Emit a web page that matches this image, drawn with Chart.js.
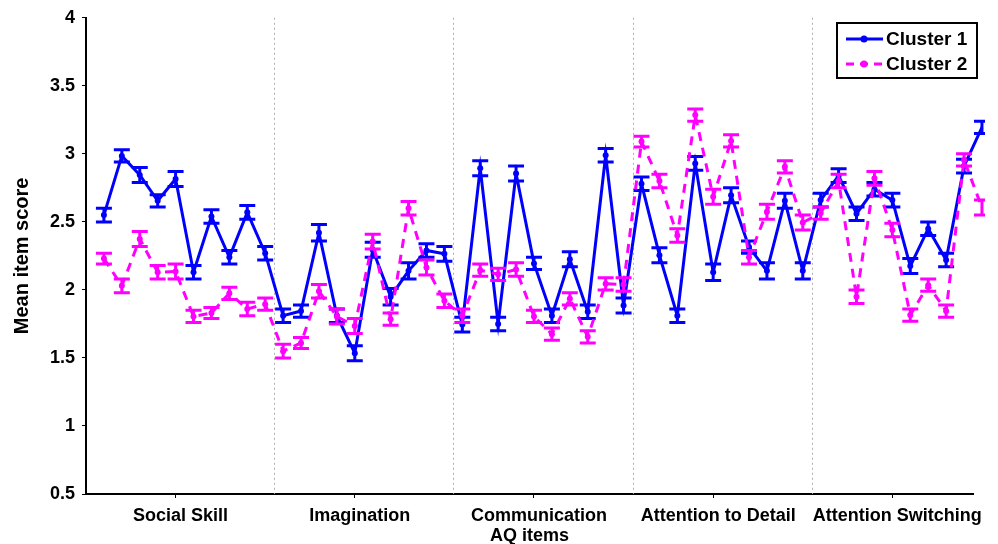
<!DOCTYPE html>
<html>
<head>
<meta charset="utf-8">
<script src="https://cdn.jsdelivr.net/npm/chart.js@4.4.1/dist/chart.umd.min.js"></script>
<style>
  html, body { margin: 0; padding: 0; background: #fff; }
  #wrap { width: 998px; height: 544px; position: relative; }
</style>
</head>
<body>
<div id="wrap"><canvas id="aqChart"></canvas></div>
<script>
// AQ item means per cluster (items 1..50)
const cluster1Mean = [
  2.55, 2.985, 2.845, 2.655, 2.815, 2.13, 2.54, 2.24, 2.57, 2.27,
  1.81, 1.845, 2.42, 1.81, 1.535, 2.295, 1.95, 2.14, 2.29, 2.265,
  1.745, 2.895, 1.75, 2.855, 2.195, 1.81, 2.225, 1.84, 2.99, 1.885,
  2.78, 2.255, 1.81, 2.93, 2.13, 2.695, 2.315, 2.14, 2.655, 2.14,
  2.66, 2.84, 2.56, 2.74, 2.66, 2.175, 2.45, 2.22, 2.91, 3.195
];
const cluster1Err = [
  0.05, 0.045, 0.055, 0.045, 0.055, 0.05, 0.05, 0.05, 0.05, 0.05,
  0.05, 0.045, 0.06, 0.05, 0.055, 0.055, 0.06, 0.06, 0.05, 0.055,
  0.055, 0.055, 0.05, 0.055, 0.045, 0.05, 0.055, 0.05, 0.05, 0.055,
  0.05, 0.055, 0.05, 0.05, 0.06, 0.055, 0.045, 0.06, 0.055, 0.06,
  0.05, 0.05, 0.05, 0.05, 0.05, 0.055, 0.05, 0.05, 0.05, 0.045
];
const cluster2Mean = [
  2.23, 2.03, 2.375, 2.13, 2.135, 1.805, 1.83, 1.975, 1.86, 1.895,
  1.55, 1.61, 1.99, 1.805, 1.735, 2.355, 1.785, 2.60, 2.165, 1.92,
  1.81, 2.145, 2.115, 2.15, 1.805, 1.675, 1.935, 1.655, 2.045, 2.04,
  3.09, 2.80, 2.40, 3.285, 2.685, 3.095, 2.24, 2.575, 2.905, 2.495,
  2.565, 2.80, 1.95, 2.82, 2.44, 1.815, 2.035, 1.845, 2.955, 2.605
];
const cluster2Err = [
  0.04, 0.05, 0.055, 0.05, 0.055, 0.045, 0.04, 0.045, 0.05, 0.045,
  0.05, 0.04, 0.05, 0.055, 0.055, 0.055, 0.045, 0.05, 0.055, 0.05,
  0.05, 0.045, 0.045, 0.05, 0.045, 0.045, 0.045, 0.045, 0.045, 0.05,
  0.04, 0.05, 0.05, 0.045, 0.055, 0.045, 0.05, 0.055, 0.045, 0.055,
  0.045, 0.05, 0.05, 0.05, 0.05, 0.045, 0.045, 0.045, 0.045, 0.055
];

// Subscale labels, their tick positions and the dotted dividers
const domains = ['Social Skill', 'Imagination', 'Communication', 'Attention to Detail', 'Attention Switching'];
const domainTicks = [5, 15, 25, 35, 45];
const dividers = [10.5, 20.5, 30.5, 40.5];
const yTicks = [0.5, 1, 1.5, 2, 2.5, 3, 3.5, 4];

const BLUE = '#0000ff';
const MAGENTA = '#ff00ff';
const FONT = '"Liberation Sans", Arial, sans-serif';

const toPoints = (means) => means.map((v, i) => ({ x: i + 1, y: v }));

// Dotted vertical lines between the subscales
const dividerPlugin = {
  id: 'dividers',
  beforeDatasetsDraw(chart) {
    const { ctx, chartArea, scales } = chart;
    ctx.save();
    ctx.strokeStyle = '#b0b0b0';
    ctx.lineWidth = 1;
    ctx.setLineDash([2, 3]);
    dividers.forEach((d) => {
      const x = Math.round(scales.x.getPixelForValue(d)) + 0.5;
      ctx.beginPath();
      ctx.moveTo(x, chartArea.top);
      ctx.lineTo(x, chartArea.bottom);
      ctx.stroke();
    });
    ctx.restore();
  }
};

// Error bars with caps, drawn right after each dataset
const errorBarPlugin = {
  id: 'errorBars',
  afterDatasetDraw(chart, args) {
    const ds = chart.data.datasets[args.index];
    if (!ds.errors) return;
    const { ctx, chartArea, scales } = chart;
    ctx.save();
    ctx.beginPath();
    ctx.rect(chartArea.left - 10, chartArea.top - 10, chartArea.right - chartArea.left + 22, chartArea.bottom - chartArea.top + 20);
    ctx.clip();
    ctx.strokeStyle = ds.borderColor;
    ctx.lineWidth = 3;
    ctx.setLineDash([]);
    ds.data.forEach((p, i) => {
      const x = scales.x.getPixelForValue(p.x);
      const yTop = scales.y.getPixelForValue(p.y + ds.errors[i]);
      const yBot = scales.y.getPixelForValue(p.y - ds.errors[i]);
      const cap = 8;
      ctx.beginPath();
      ctx.moveTo(x, yTop);
      ctx.lineTo(x, yBot);
      ctx.moveTo(x - cap, yTop);
      ctx.lineTo(x + cap, yTop);
      ctx.moveTo(x - cap, yBot);
      ctx.lineTo(x + cap, yBot);
      ctx.stroke();
    });
    ctx.restore();
  }
};

// Boxed legend in the top right corner
const boxLegendPlugin = {
  id: 'boxLegend',
  afterDraw(chart) {
    const { ctx, chartArea } = chart;
    const right = chartArea.right + 4;
    const left = right - 140;
    const top = 23;
    const bottom = 78;
    ctx.save();
    ctx.fillStyle = '#fff';
    ctx.fillRect(left, top, right - left, bottom - top);
    ctx.strokeStyle = '#000';
    ctx.lineWidth = 2;
    ctx.strokeRect(left, top, right - left, bottom - top);
    const rows = [
      { label: 'Cluster 1', color: BLUE, dash: [], y: 39 },
      { label: 'Cluster 2', color: MAGENTA, dash: [8, 6], y: 64 }
    ];
    rows.forEach((r) => {
      ctx.strokeStyle = r.color;
      ctx.lineWidth = 3;
      ctx.setLineDash(r.dash);
      ctx.beginPath();
      ctx.moveTo(left + 9, r.y);
      ctx.lineTo(left + 46, r.y);
      ctx.stroke();
      ctx.setLineDash([]);
      ctx.fillStyle = r.color;
      ctx.beginPath();
      ctx.arc(left + 27, r.y, 3.5, 0, Math.PI * 2);
      ctx.fill();
      ctx.fillStyle = '#000';
      ctx.font = 'bold 19px ' + FONT;
      ctx.textBaseline = 'middle';
      ctx.fillText(r.label, left + 49, r.y + 1);
    });
    ctx.restore();
  }
};

new Chart(document.getElementById('aqChart'), {
  type: 'line',
  data: {
    datasets: [
      {
        label: 'Cluster 1',
        data: toPoints(cluster1Mean),
        errors: cluster1Err,
        borderColor: BLUE,
        backgroundColor: BLUE,
        borderWidth: 3,
        pointRadius: 3,
        pointBorderWidth: 0,
        pointBackgroundColor: BLUE,
        tension: 0,
        clip: { left: 10, top: 10, right: 12, bottom: 10 },
        order: 1
      },
      {
        label: 'Cluster 2',
        data: toPoints(cluster2Mean),
        errors: cluster2Err,
        borderColor: MAGENTA,
        backgroundColor: MAGENTA,
        borderWidth: 3,
        borderDash: [9, 7],
        pointRadius: 3,
        pointBorderWidth: 0,
        pointBackgroundColor: MAGENTA,
        tension: 0,
        clip: { left: 10, top: 10, right: 12, bottom: 10 },
        order: 0
      }
    ]
  },
  options: {
    responsive: true,
    maintainAspectRatio: false,
    animation: false,
    layout: { padding: { top: 17, right: 25, left: 0, bottom: 0 } },
    scales: {
      x: {
        type: 'linear',
        min: 0,
        max: 49.5,
        afterBuildTicks: (scale) => {
          scale.ticks = domainTicks.map((v) => ({ value: v }));
        },
        afterFit: (scale) => { scale.height = 50; },
        ticks: {
          color: '#000',
          font: { family: FONT, size: 18, weight: 'bold' },
          padding: 7,
          labelOffset: 5,
          maxRotation: 0,
          autoSkip: false,
          callback: (v) => domains[domainTicks.indexOf(v)]
        },
        grid: { drawOnChartArea: false, drawTicks: true, tickLength: 4, color: '#000', lineWidth: 1 },
        border: { display: true, color: '#000', width: 2 },
        title: {
          display: true,
          text: 'AQ items',
          color: '#000',
          font: { family: FONT, size: 18, weight: 'bold' },
          padding: { top: 4, bottom: -3 }
        }
      },
      y: {
        min: 0.5,
        max: 4,
        afterBuildTicks: (scale) => {
          scale.ticks = yTicks.map((v) => ({ value: v }));
        },
        afterFit: (scale) => { scale.width = 86; },
        ticks: {
          color: '#000',
          font: { family: FONT, size: 18, weight: 'bold' },
          padding: 7,
          callback: (v) => String(v)
        },
        grid: { drawOnChartArea: false, drawTicks: true, tickLength: 4, color: '#000', lineWidth: 1 },
        border: { display: true, color: '#000', width: 2 },
        title: {
          display: true,
          text: 'Mean item score',
          color: '#000',
          font: { family: FONT, size: 20, weight: 'bold' },
          padding: { top: 10, bottom: 0 }
        }
      }
    },
    plugins: {
      legend: { display: false },
      tooltip: { enabled: false }
    }
  },
  plugins: [dividerPlugin, errorBarPlugin, boxLegendPlugin]
});
</script>
</body>
</html>
